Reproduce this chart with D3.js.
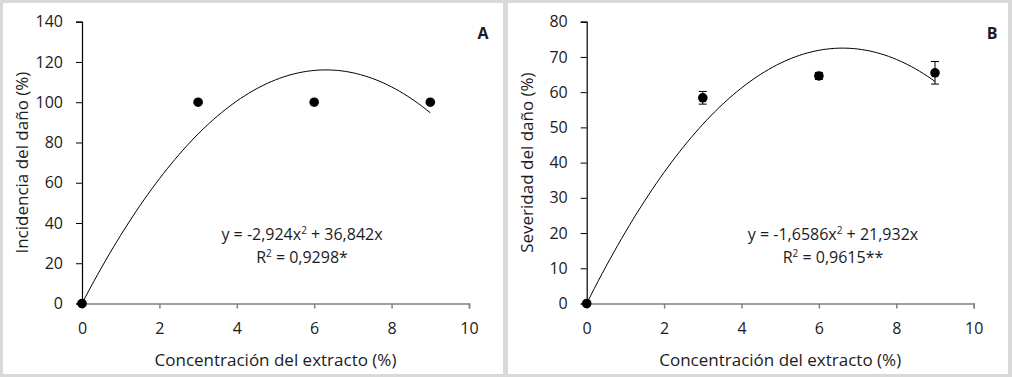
<!DOCTYPE html>
<html>
<head>
<meta charset="utf-8">
<script src="https://cdn.jsdelivr.net/npm/d3@7"></script>
<style>
  body { margin: 0; background: #d9d9d9; }
  svg { display: block; }
  text { font-family: "Open Sans", "Noto Sans", sans-serif; fill: #1b1b24; }
</style>
</head>
<body>
<svg id="chart" width="1012" height="377"></svg>
<script>
// datos
const conc = [0, 3, 6, 9];
const incidencia = [0, 100, 100, 100];
const severidad = [0, 58.4, 64.6, 65.5];
const severidadErr = [0, 1.8, 1.0, 3.2];
const xTicks = [0, 2, 4, 6, 8, 10];
const yTicksA = [0, 20, 40, 60, 80, 100, 120, 140];
const yTicksB = [0, 10, 20, 30, 40, 50, 60, 70, 80];
// coeficientes de la regresión
const coefA = [-2.924, 36.842];
const coefB = [-1.6586, 21.932];

const svg = d3.select("#chart");

function panel(opt) {
  const g = svg.append("g").attr("transform", "translate(" + opt.left + ",0)");

  g.append("rect")
    .attr("x", opt.boxX).attr("y", 3)
    .attr("width", 500).attr("height", 371)
    .attr("fill", "white");

  const x = d3.scaleLinear().domain([0, 10]).range([opt.x0, opt.x0 + 387]);
  const y = d3.scaleLinear().domain([0, opt.ymax]).range([303.5, 21.7]);

  // eje x (gris)
  const ax = g.append("g")
    .attr("transform", "translate(0," + y(0) + ")")
    .call(d3.axisBottom(x).tickValues(xTicks).tickSize(5).tickPadding(14).tickFormat(d3.format("d")));
  ax.select(".domain").attr("stroke", "#808080").attr("stroke-width", 1.5);
  ax.selectAll(".tick line").attr("stroke", "#808080").attr("stroke-width", 1.5);
  ax.selectAll("text").style("font-size", "16px");

  // eje y (negro)
  const ay = g.append("g")
    .attr("transform", "translate(" + x(0) + ",0)")
    .call(d3.axisLeft(y).tickValues(opt.yTicks).tickSize(6).tickPadding(13).tickFormat(d3.format("d")));
  ay.select(".domain").attr("stroke", "#000").attr("stroke-width", 1.2);
  ay.selectAll(".tick line").attr("stroke", "#000");
  ay.selectAll("text").style("font-size", "16px");

  // curva ajustada
  const xs = d3.range(0, 9.0001, 0.1);
  g.append("path")
    .datum(xs)
    .attr("fill", "none")
    .attr("stroke", "#000")
    .attr("stroke-width", 1)
    .attr("d", d3.line()
      .x(d => x(d))
      .y(d => y(opt.coef[0] * d * d + opt.coef[1] * d))
      .curve(d3.curveMonotoneX));

  // barras de error
  if (opt.err) {
    const eb = g.selectAll(".err").data(conc.map((c, i) => ({ c: c, v: opt.vals[i], e: opt.err[i] })).filter(d => d.e > 0))
      .enter().append("g");
    eb.append("line")
      .attr("x1", d => x(d.c)).attr("x2", d => x(d.c))
      .attr("y1", d => y(d.v - d.e)).attr("y2", d => y(d.v + d.e))
      .attr("stroke", "#000");
    eb.append("line")
      .attr("x1", d => x(d.c) - 4).attr("x2", d => x(d.c) + 4)
      .attr("y1", d => y(d.v + d.e)).attr("y2", d => y(d.v + d.e))
      .attr("stroke", "#000");
    eb.append("line")
      .attr("x1", d => x(d.c) - 4).attr("x2", d => x(d.c) + 4)
      .attr("y1", d => y(d.v - d.e)).attr("y2", d => y(d.v - d.e))
      .attr("stroke", "#000");
  }

  // puntos
  g.selectAll(".pt").data(conc)
    .enter().append("circle")
    .attr("cx", d => x(d))
    .attr("cy", (d, i) => y(opt.vals[i]))
    .attr("r", 4.8)
    .attr("fill", "#000");

  // títulos de ejes
  g.append("text")
    .attr("x", (x(0) + x(10)) / 2)
    .attr("y", 366)
    .attr("text-anchor", "middle")
    .style("font-size", "17px")
    .text("Concentración del extracto (%)");

  g.append("text")
    .attr("transform", "translate(" + (opt.x0 - 54) + "," + ((y(0) + y(opt.ymax)) / 2) + ") rotate(-90)")
    .attr("text-anchor", "middle")
    .style("font-size", "17px")
    .text(opt.ylabel);

  // letra del panel
  g.append("text")
    .attr("x", opt.letterX).attr("y", 39)
    .attr("text-anchor", "middle")
    .style("font-size", "16px")
    .style("font-weight", "bold")
    .text(opt.letter);

  // ecuación
  const eq = g.append("text")
    .attr("x", opt.eqX).attr("y", 240)
    .attr("text-anchor", "middle")
    .style("font-size", "16px");
  eq.append("tspan").text(opt.eq1);
  eq.append("tspan").attr("dy", -6).style("font-size", "10px").text("2");
  eq.append("tspan").attr("dy", 6).text(opt.eq2);

  const r2 = g.append("text")
    .attr("x", opt.eqX).attr("y", 263)
    .attr("text-anchor", "middle")
    .style("font-size", "16px");
  r2.append("tspan").text("R");
  r2.append("tspan").attr("dy", -6).style("font-size", "10px").text("2");
  r2.append("tspan").attr("dy", 6).text(opt.r2);
}

panel({
  left: 0, boxX: 3, x0: 82, ymax: 140, yTicks: yTicksA,
  vals: incidencia, err: null, coef: coefA,
  ylabel: "Incidencia del daño (%)", letter: "A", letterX: 483,
  eqX: 302, eq1: "y = -2,924x", eq2: " + 36,842x", r2: " = 0,9298*"
});

panel({
  left: 505, boxX: 3, x0: 81.7, ymax: 80, yTicks: yTicksB,
  vals: severidad, err: severidadErr, coef: coefB,
  ylabel: "Severidad del daño (%)", letter: "B", letterX: 487,
  eqX: 328, eq1: "y = -1,6586x", eq2: " + 21,932x", r2: " = 0,9615**"
});
</script>
</body>
</html>
